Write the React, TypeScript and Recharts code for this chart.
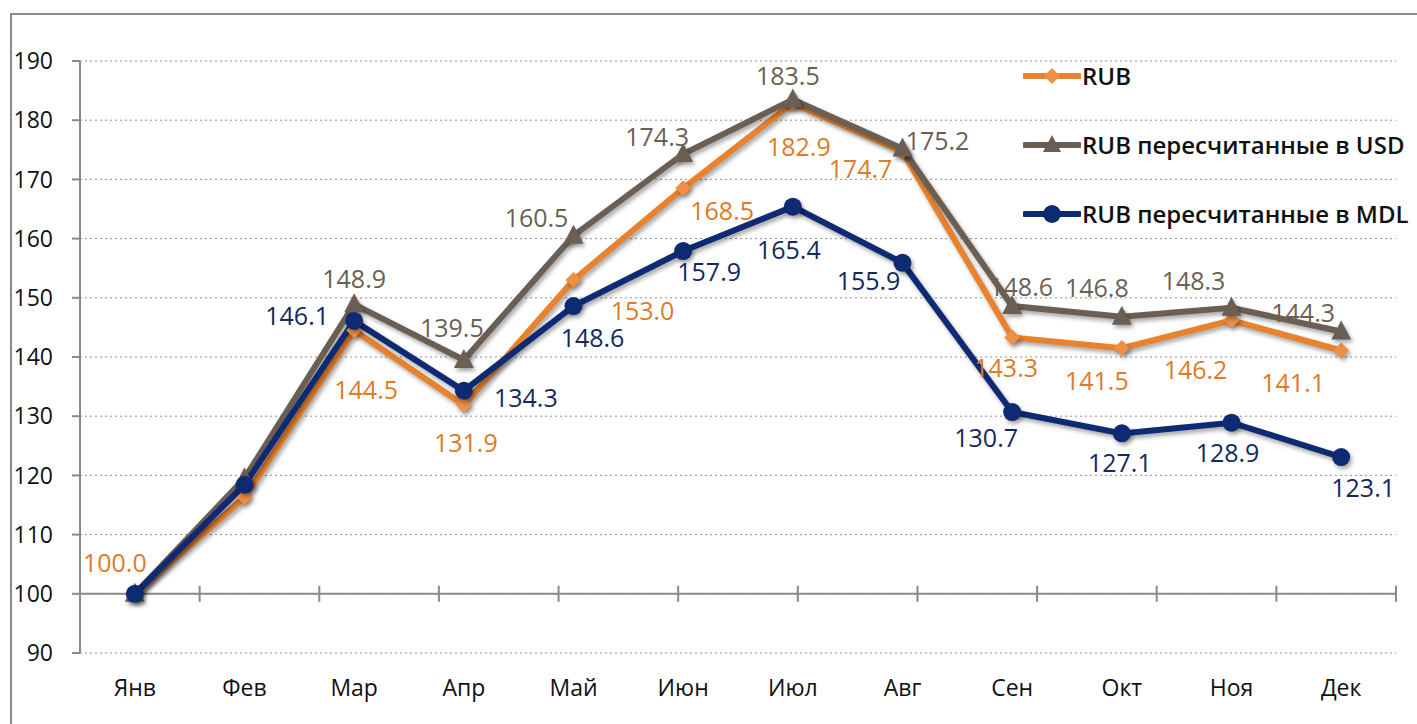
import { LineChart, Line, XAxis, YAxis, CartesianGrid, ReferenceLine, LabelList } from 'recharts'

const months = ['Янв', 'Фев', 'Мар', 'Апр', 'Май', 'Июн', 'Июл', 'Авг', 'Сен', 'Окт', 'Ноя', 'Дек']
const rub = [100.0, 116.3, 144.5, 131.9, 153.0, 168.5, 182.9, 174.7, 143.3, 141.5, 146.2, 141.1]
const rubUsd = [100.0, 119.5, 148.9, 139.5, 160.5, 174.3, 183.5, 175.2, 148.6, 146.8, 148.3, 144.3]
const rubMdl = [100.0, 118.4, 146.1, 134.3, 148.6, 157.9, 165.4, 155.9, 130.7, 127.1, 128.9, 123.1]
const yTicks = [90, 100, 110, 120, 130, 140, 150, 160, 170, 180, 190]
const bounds = [0, 1, 2, 3, 4, 5, 6, 7, 8, 9, 10, 11, 12]

// label offsets from the point (dx, dy), null = no label
const rubLbl = [[-20, -32], null, [12, 59], [2, 37], [69, 30], [39, 22], [6, 43], [-42, 16], [-6, 30], [-25, 32], [-36, 49], [-48, 32]]
const usdLbl = [null, null, [0, -26], [-12, -33], [-37, -19], [-26, -18], [-5, -24], [35, -9], [9, -20], [-25, -30], [-38, -28], [-38, -20]]
const mdlLbl = [null, null, [-57, -6], [62, 6], [19, 31], [26, 20], [-4, 42], [-34, 17], [-26, 25], [-2, 29], [-4, 29], [22, 30]]

const ORANGE = '#E8822E'
const BROWN = '#6B5F54'
const NAVY = '#0D2A73'
const FONT = '"Open Sans", sans-serif'

const data = months.map((m, i) => ({ m, rub: rub[i], usd: rubUsd[i], mdl: rubMdl[i] }))

const diamond = (p: any) => {
  const { cx, cy, index } = p
  return <path key={'d' + index} d={`M${cx},${cy - 8} L${cx + 8},${cy} L${cx},${cy + 8} L${cx - 8},${cy} Z`} fill="#EE8F45" />
}
const triangle = (p: any) => {
  const { cx, cy, index } = p
  return <path key={'t' + index} d={`M${cx},${cy - 11} L${cx + 10},${cy + 8} L${cx - 10},${cy + 8} Z`} fill={BROWN} />
}
const circle = (p: any) => {
  const { cx, cy, index } = p
  return <circle key={'c' + index} cx={cx} cy={cy} r={9} fill={NAVY} />
}

const makeLabel = (offs: any[], color: string) => (p: any) => {
  const o = offs[p.index]
  if (!o) return null
  return (
    <text x={p.x + o[0]} y={p.y + o[1]} fill={color} fontSize={25} fontWeight={500} fontFamily={FONT}
      textAnchor="middle" dominantBaseline="central">{Number(p.value).toFixed(1)}</text>
  )
}

const legendItems = [
  { name: 'RUB', color: ORANGE, mark: 'd' },
  { name: 'RUB пересчитанные в USD', color: BROWN, mark: 't' },
  { name: 'RUB пересчитанные в MDL', color: NAVY, mark: 'c' },
]

function LegendBox(){
  return (
    <div style={{ position: 'absolute', left: 1023, top: 41, width: 394 }}>
      {legendItems.map((it, i) => (
        <div key={i} style={{ display: 'flex', alignItems: 'center', height: 69 }}>
          <svg width={58} height={24}>
            <line x1={2} y1={12} x2={56} y2={12} stroke={it.color} strokeWidth={6} strokeLinecap="round" />
            {it.mark === 'd' && <path d="M29,4 L37,12 L29,20 L21,12 Z" fill="#EE8F45" />}
            {it.mark === 't' && <path d="M29,2 L38,19 L20,19 Z" fill={it.color} />}
            {it.mark === 'c' && <circle cx={29} cy={12} r={9} fill={it.color} />}
          </svg>
          <span style={{ fontFamily: FONT, fontSize: 24, fontWeight: 600, color: '#111', marginLeft: 1, whiteSpace: 'nowrap' }}>{it.name}</span>
        </div>
      ))}
    </div>
  )
}

export default function App(){
  return (
    <div style={{ position: 'absolute', left: 0, top: 0, width: 1417, height: 724, background: '#fff', overflow: 'hidden' }}>
      <style>{`.recharts-line-curve, .recharts-line-dots { filter: drop-shadow(2px 3px 2px rgba(0,0,0,0.35)); }`}</style>
      <div style={{ position: 'absolute', left: 10, top: 13, width: 1430, height: 740, border: '2px solid #8a8a8a' }} />
      <div style={{ position: 'absolute', left: 0, top: 0 }}>
        <LineChart width={1417} height={724} data={data} margin={{ top: 61, right: 21, left: 0, bottom: 31 }}>
          <CartesianGrid vertical={false} stroke="#8f8f8f" strokeDasharray="2 3" />
          <XAxis dataKey="m" scale="band" axisLine={false} tickLine={false} height={40} tickSize={0} tickMargin={0}
            tick={(p: any) => (
              <text x={p.x} y={p.y + 34} textAnchor="middle" dominantBaseline="central" fontSize={23} fontWeight={500} fontFamily={FONT} fill="#111">{p.payload.value}</text>
            )} />
          <XAxis xAxisId="grid" type="number" domain={[0, 12]} hide />
          <YAxis width={80} domain={[90, 190]} ticks={yTicks} interval={0} stroke="#8a8a8a" strokeWidth={2}
            tickSize={8} tickMargin={19} tick={{ fontSize: 23, fontWeight: 500, fontFamily: FONT, fill: '#111' }} />
          <ReferenceLine y={100} stroke="#8a8a8a" strokeWidth={2} />
          {bounds.map(b => (
            <ReferenceLine key={b} xAxisId="grid" stroke="#8a8a8a" strokeWidth={2}
              segment={[{ x: b, y: 98.65 }, { x: b, y: 101.35 }]} />
          ))}
          <Line dataKey="rub" name="RUB" stroke={ORANGE} strokeWidth={6} dot={diamond} activeDot={false} isAnimationActive={false}>
            <LabelList dataKey="rub" content={makeLabel(rubLbl, '#E07A25')} />
          </Line>
          <Line dataKey="usd" name="RUB пересчитанные в USD" stroke={BROWN} strokeWidth={6} dot={triangle} activeDot={false} isAnimationActive={false}>
            <LabelList dataKey="usd" content={makeLabel(usdLbl, BROWN)} />
          </Line>
          <Line dataKey="mdl" name="RUB пересчитанные в MDL" stroke={NAVY} strokeWidth={6} dot={circle} activeDot={false} isAnimationActive={false}>
            <LabelList dataKey="mdl" content={makeLabel(mdlLbl, '#13295E')} />
          </Line>
        </LineChart>
      </div>
      <LegendBox />
    </div>
  )
}
